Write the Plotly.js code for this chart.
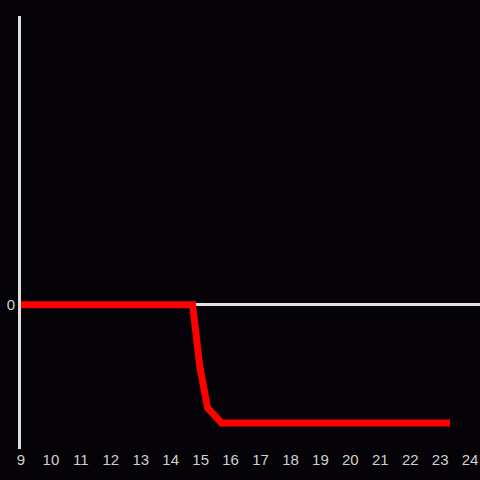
<!DOCTYPE html>
<html><head><meta charset="utf-8">
<script src="https://cdn.plot.ly/plotly-3.0.1.min.js"></script>
<style>html,body{margin:0;padding:0;background:#050307;}</style>
</head><body><div id="chart" style="width:480px;height:480px;"></div>
<script>
const xValues = [9, 14.73, 14.97, 15.23, 15.7, 23.33];
const yValues = [0, 0, -0.424, -0.715, -0.819, -0.819];
const xTicks = [9,10,11,12,13,14,15,16,17,18,19,20,21,22,23,24];

Plotly.newPlot('chart', [{
  x: xValues, y: yValues, type: 'scatter', mode: 'lines',
  line: {color: '#ff0000', width: 7},
  hoverinfo: 'skip'
}], {
  width: 480, height: 480,
  paper_bgcolor: '#050307', plot_bgcolor: '#050307',
  margin: {l: 21, r: 0, t: 16, b: 31},
  showlegend: false,
  font: {family: 'Liberation Sans, Arial, sans-serif', size: 15, color: '#d0d0d0'},
  xaxis: {range: [9, 24.33], tickvals: xTicks, ticktext: xTicks.map(String),
    showgrid: false, zeroline: false, showline: false, ticks: '', ticklen: 0},
  yaxis: {range: [-1, 2], tickvals: [0], ticktext: ['0'], showgrid: false,
    zeroline: true, zerolinecolor: '#e0e0e0', zerolinewidth: 3,
    showline: true, linecolor: '#e0e0e0', linewidth: 3, ticks: '', ticklen: 0}
}, {staticPlot: true});
</script></body></html>
